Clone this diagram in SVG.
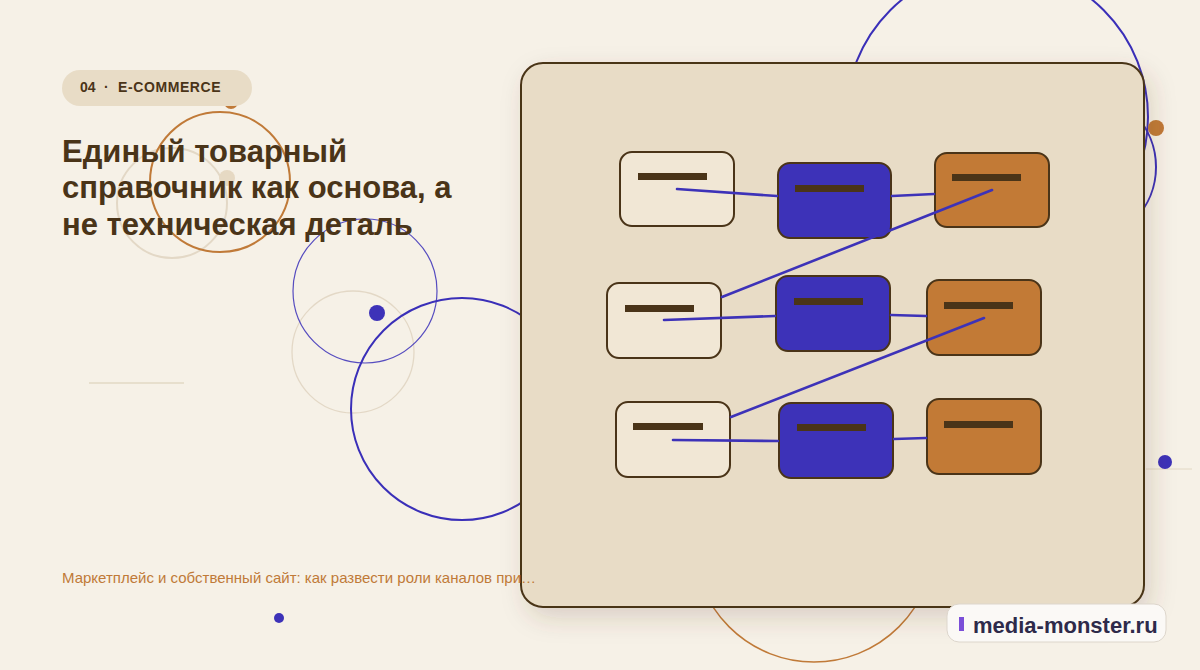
<svg xmlns="http://www.w3.org/2000/svg" width="1200" height="670" viewBox="0 0 1200 670">
<defs>
<filter id="sh" x="-10%" y="-10%" width="125%" height="130%">
<feDropShadow dx="6" dy="10" stdDeviation="12" flood-color="#5a4020" flood-opacity="0.18"/>
</filter>
<style>
.nd{stroke:#4A3418;stroke-width:2}
.src{fill:#F1E7D5}
.mid{fill:#3D32B8}
.out{fill:#C27A36}
.bar{fill:#4A3418}
.ln{stroke:#3D32B8;stroke-width:2.6;fill:none;stroke-linecap:round}
.deco{fill:none}
.bt{font-family:"Liberation Sans",Arial,sans-serif;font-weight:bold;font-size:14px;fill:#4A3418}
</style>
</defs>
<rect width="1200" height="670" fill="#F6F1E7"/>
<g id="decor">
<circle cx="997" cy="117" r="151" class="deco" stroke="#3A2FB8" stroke-width="2"/>
<circle cx="1080" cy="167" r="76" class="deco" stroke="#3A2FB8" stroke-width="2"/>
<circle cx="172" cy="203" r="55" class="deco" stroke="#E3D8C6" stroke-width="2"/>
<circle cx="220" cy="182" r="70" class="deco" stroke="#C07A38" stroke-width="2"/>
<circle cx="227" cy="178" r="8" fill="#E6D9C3"/>
<circle cx="231" cy="102" r="7" fill="#C07A38"/>
<circle cx="353" cy="352" r="61" class="deco" stroke="#E3D8C6" stroke-width="1.3"/>
<circle cx="365" cy="291" r="72" class="deco" stroke="#3A2FB8" stroke-width="1.2" stroke-opacity="0.85"/>
<circle cx="377" cy="313" r="8" fill="#3D32B8"/>
<circle cx="462" cy="409" r="111" class="deco" stroke="#3A2FB8" stroke-width="2"/>
<circle cx="814" cy="542" r="120" class="deco" stroke="#C07A38" stroke-width="1.5"/>
<circle cx="279" cy="618" r="5" fill="#3D32B8"/>
<line x1="89" y1="383" x2="184" y2="383" stroke="#E2D8C4" stroke-width="1.5"/>
<circle cx="1156" cy="128" r="8" fill="#C07A38"/>
<line x1="1146" y1="469" x2="1192" y2="469" stroke="#E2D8C4" stroke-width="1"/>
<circle cx="1165" cy="462" r="7" fill="#3D32B8"/>
</g>
<g id="badge">
<rect x="62" y="70" width="190" height="36" rx="18" fill="#E8DCC6"/>
<text class="bt" x="80" y="92">04</text>
<text class="bt" x="104" y="92">·</text>
<text class="bt" x="118" y="92" letter-spacing="0.6">E-COMMERCE</text>
</g>
<g id="title" font-family="Liberation Sans, Arial, sans-serif" font-weight="bold" font-size="31" fill="#4A3418">
<text x="62" y="162">Единый товарный</text>
<text x="62" y="198">справочник как основа, а</text>
<text x="62" y="235">не техническая деталь</text>
</g>
<g id="panel">
<rect x="521" y="63" width="623" height="544" rx="22" fill="#E8DCC6" stroke="#4A3418" stroke-width="2" filter="url(#sh)"/>
</g>
<g id="subtitle">
<text x="62" y="583" font-family="Liberation Sans, Arial, sans-serif" font-size="15" fill="#C07A38">Маркетплейс и собственный сайт: как развести роли каналов при…</text>
</g>
<g id="n1a"><rect class="nd src" x="620" y="152" width="114" height="74" rx="12"/><rect class="bar" x="638" y="173" width="69" height="7"/></g>
<g id="n1b"><rect class="nd mid" x="778" y="163" width="113" height="75" rx="12"/><rect class="bar" x="795" y="185" width="69" height="7"/></g>
<g id="n1c"><rect class="nd out" x="935" y="153" width="114" height="74" rx="12"/><rect class="bar" x="952" y="174" width="69" height="7"/></g>
<g id="n2a"><rect class="nd src" x="607" y="283" width="114" height="75" rx="12"/><rect class="bar" x="625" y="305" width="69" height="7"/></g>
<g id="n2b"><rect class="nd mid" x="776" y="276" width="114" height="75" rx="12"/><rect class="bar" x="794" y="298" width="69" height="7"/></g>
<g id="n2c"><rect class="nd out" x="927" y="280" width="114" height="75" rx="12"/><rect class="bar" x="944" y="302" width="69" height="7"/></g>
<g id="n3a"><rect class="nd src" x="616" y="402" width="114" height="75" rx="12"/><rect class="bar" x="633" y="423" width="70" height="7"/></g>
<g id="n3b"><rect class="nd mid" x="779" y="403" width="114" height="75" rx="12"/><rect class="bar" x="797" y="424" width="69" height="7"/></g>
<g id="n3c"><rect class="nd out" x="927" y="399" width="114" height="75" rx="12"/><rect class="bar" x="944" y="421" width="69" height="7"/></g>
<g id="connectors">
<line class="ln" x1="677" y1="189" x2="777" y2="196"/>
<line class="ln" x1="892" y1="196" x2="934" y2="194"/>
<line class="ln" x1="992" y1="190" x2="722" y2="297"/>
<line class="ln" x1="664" y1="320" x2="775" y2="316"/>
<line class="ln" x1="891" y1="315" x2="926" y2="316"/>
<line class="ln" x1="984" y1="318" x2="731" y2="417"/>
<line class="ln" x1="673" y1="440" x2="778" y2="441"/>
<line class="ln" x1="894" y1="439" x2="926" y2="438"/>
</g>
<g id="watermark">
<rect x="947" y="604" width="219" height="38" rx="12" fill="#FBF9F6" stroke="#DDD6CC" stroke-width="1"/>
<rect x="959" y="617" width="5" height="14" fill="#7B4FD8"/>
<text x="973" y="633" font-family="Liberation Sans, Arial, sans-serif" font-weight="bold" font-size="22" fill="#2E2A4A">media-monster.ru</text>
</g>
</svg>
